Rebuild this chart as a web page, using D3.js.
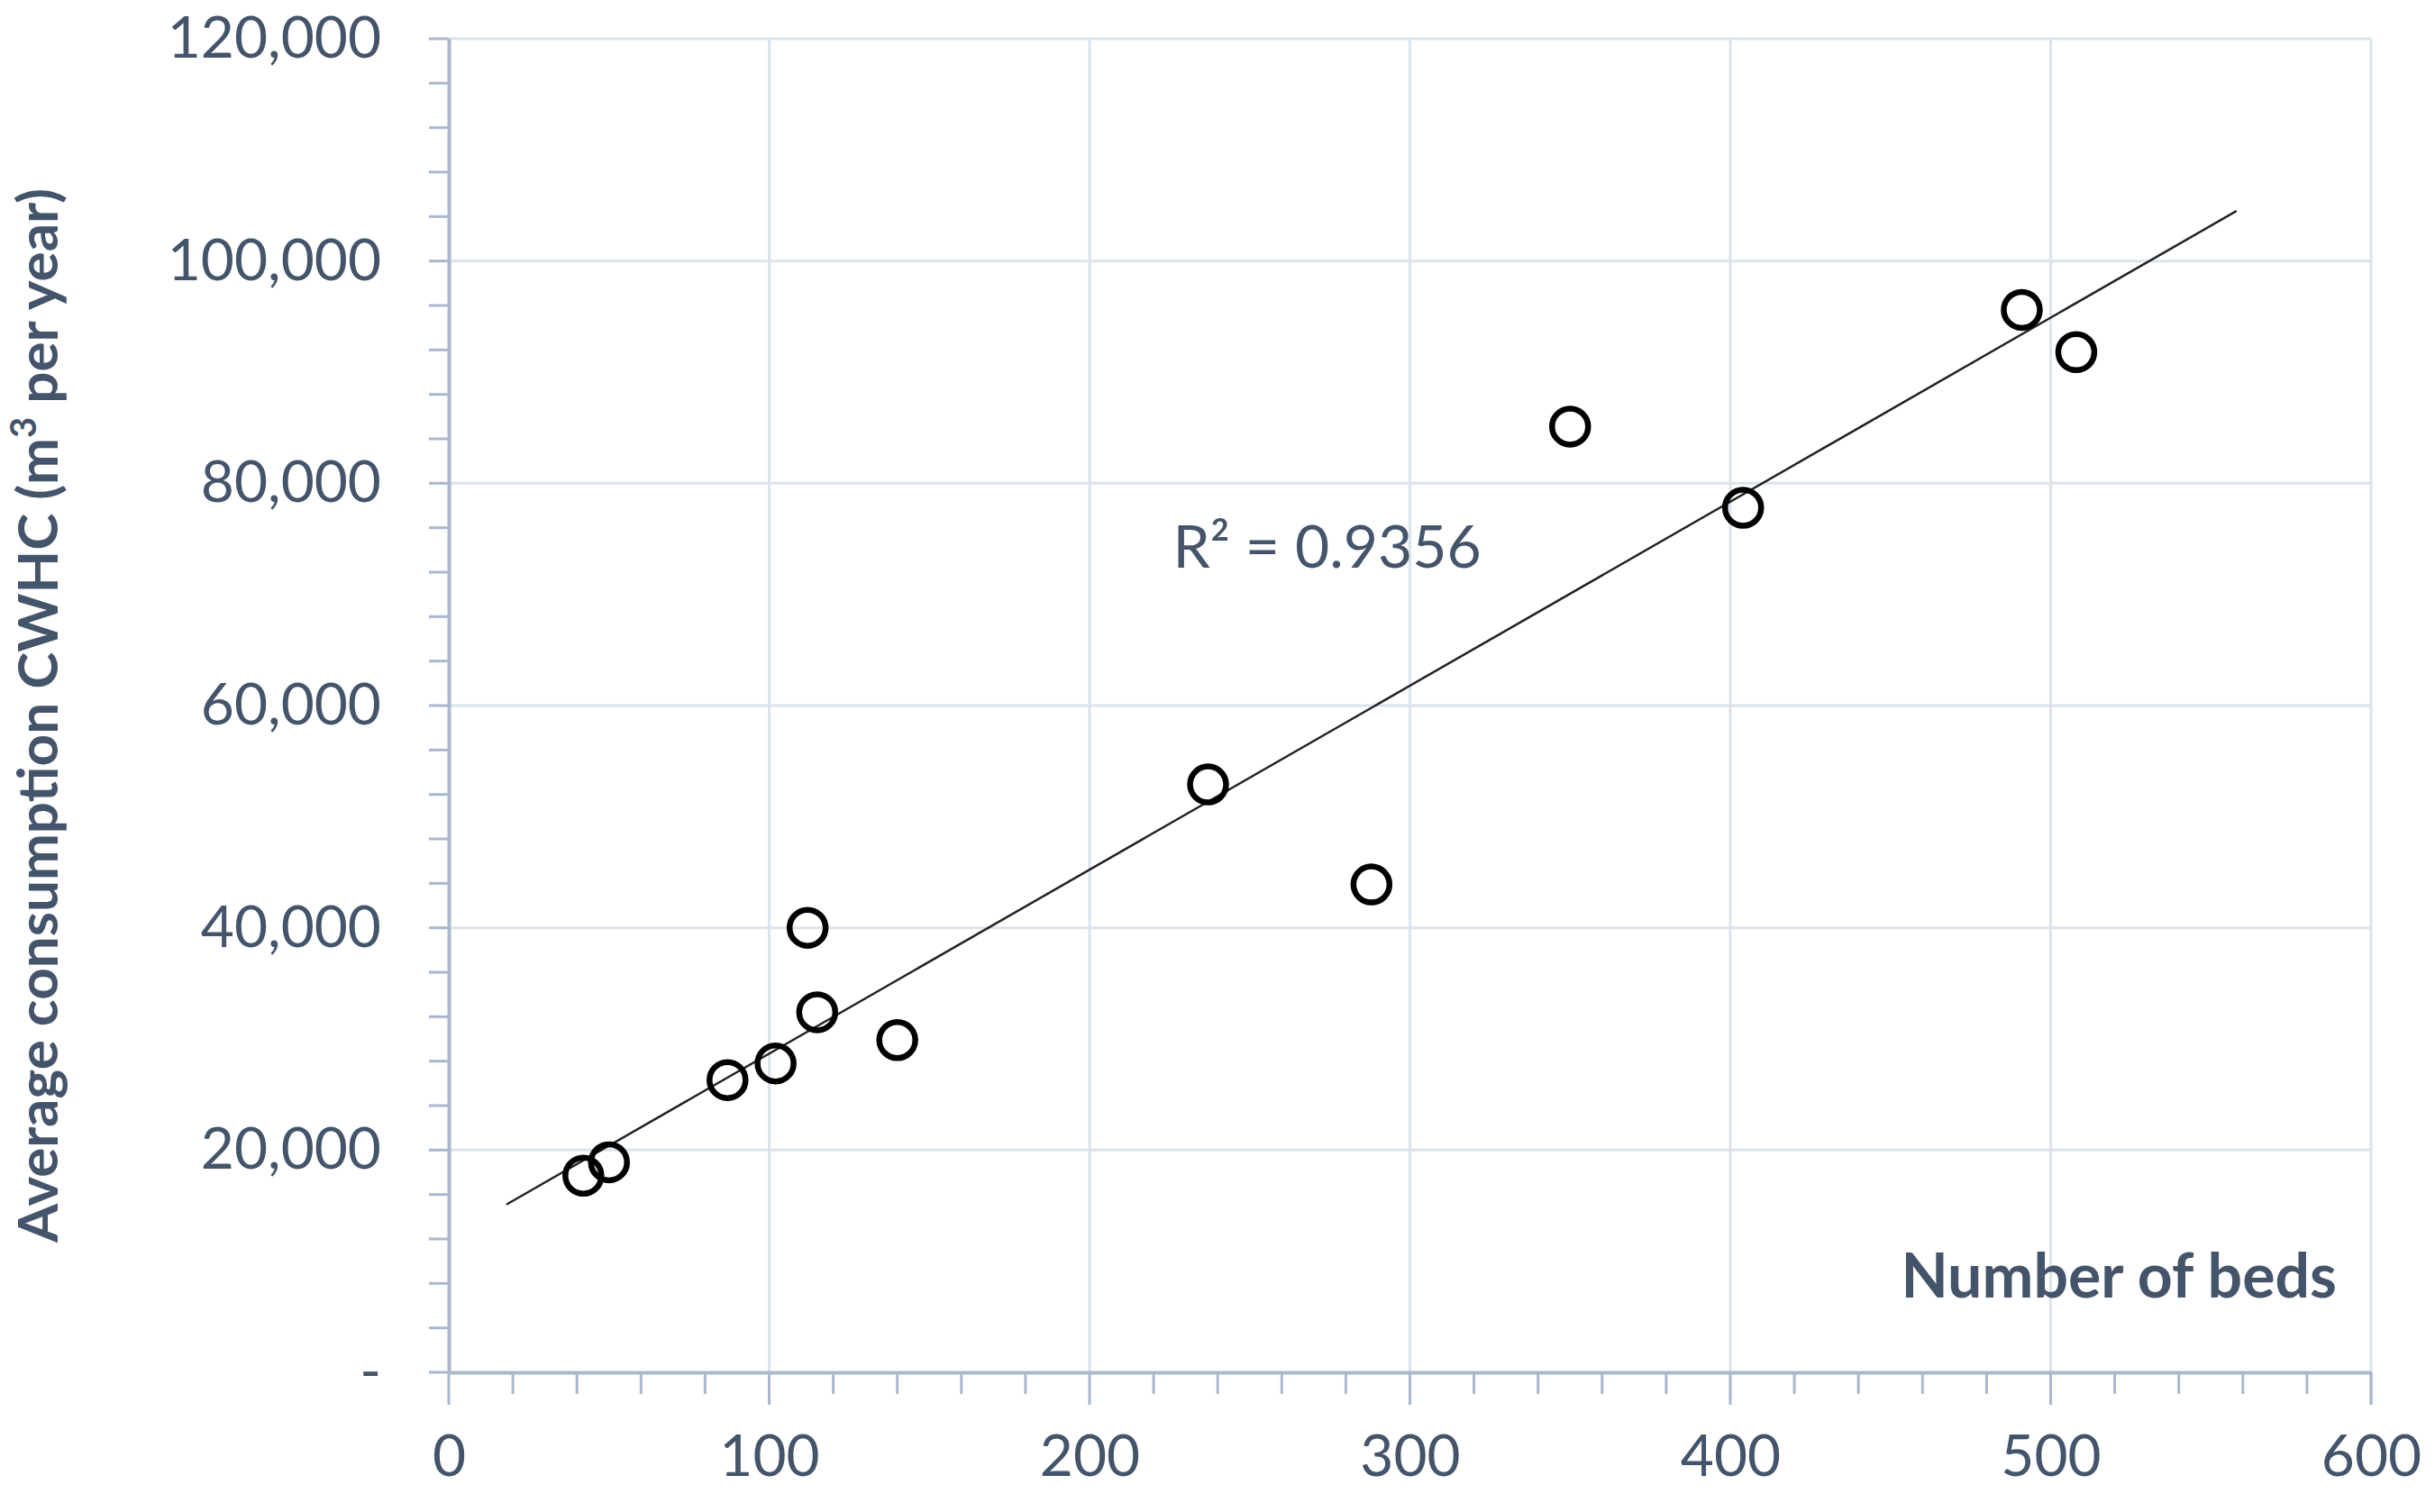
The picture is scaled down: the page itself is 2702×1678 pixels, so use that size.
<!DOCTYPE html>
<html><head><meta charset="utf-8">
<script src="https://cdn.jsdelivr.net/npm/d3@7"></script>
<style>body{margin:0;background:#fff}</style></head>
<body><svg id="c" width="2702" height="1678"></svg>
<script>
const beds = [42, 50, 87, 102, 112, 115, 140, 237, 288, 350, 404, 491, 508];
const consumption = [17700, 18900, 26300, 27800, 40000, 32400, 29900, 52900, 43900, 85100, 77800, 95600, 91800];
const trendX = [18, 558];
const trendY = [15100, 104500];
const xTicks = [0, 100, 200, 300, 400, 500, 600];
const yTicks = [0, 20000, 40000, 60000, 80000, 100000, 120000];
const rSquared = "R² = 0.9356";

const svg = d3.select("#c");
const L = 498, R = 2631, T = 43, B = 1523;
const x = d3.scaleLinear().domain([0, 600]).range([L, R]);
const y = d3.scaleLinear().domain([0, 120000]).range([B, T]);
const txt = "#44546a", axc = "#a9b8cc", grid = "#dce3ec";
const font = "Lato, 'Open Sans', sans-serif";

svg.append("g").selectAll("line").data(yTicks.slice(1)).join("line")
  .attr("x1", L).attr("x2", R).attr("y1", d => y(d)).attr("y2", d => y(d))
  .attr("stroke", grid).attr("stroke-width", 3);
svg.append("g").selectAll("line").data(xTicks.slice(1)).join("line")
  .attr("y1", T).attr("y2", B).attr("x1", d => x(d)).attr("x2", d => x(d))
  .attr("stroke", grid).attr("stroke-width", 3);

const yMinor = d3.range(0, 120001, 4000);
svg.append("g").selectAll("line").data(yMinor).join("line")
  .attr("x1", L - 22).attr("x2", L).attr("y1", d => y(d)).attr("y2", d => y(d))
  .attr("stroke", axc).attr("stroke-width", 3);
const xMinor = d3.range(0, 601, 20);
svg.append("g").selectAll("line").data(xMinor).join("line")
  .attr("y1", B).attr("y2", d => B + (d % 100 === 0 ? 36 : 24)).attr("x1", d => x(d)).attr("x2", d => x(d))
  .attr("stroke", axc).attr("stroke-width", 3);

const xa = svg.append("g").attr("transform", `translate(0,${B})`)
  .call(d3.axisBottom(x).tickValues(xTicks).tickSize(0).tickPadding(70));
const ya = svg.append("g").attr("transform", `translate(${L},0)`)
  .call(d3.axisLeft(y).tickValues(yTicks).tickSize(0).tickPadding(75)
    .tickFormat(d => d === 0 ? "-" : d3.format(",")(d)));
[xa, ya].forEach(a => {
  a.select(".domain").attr("stroke", axc).attr("stroke-width", 4);
  a.selectAll("text").attr("fill", txt).attr("font-family", font).attr("font-size", 64);
});
svg.append("line").attr("x1", R).attr("x2", R).attr("y1", B).attr("y2", B + 36).attr("stroke", axc).attr("stroke-width", 3);

svg.append("line").attr("x1", x(trendX[0])).attr("y1", y(trendY[0]))
  .attr("x2", x(trendX[1])).attr("y2", y(trendY[1]))
  .attr("stroke", "#222").attr("stroke-width", 2.5);

svg.append("g").selectAll("circle").data(beds.map((b, i) => [b, consumption[i]])).join("circle")
  .attr("cx", d => x(d[0])).attr("cy", d => y(d[1])).attr("r", 20)
  .attr("fill", "none").attr("stroke", "#000").attr("stroke-width", 6.5);

svg.append("text").attr("x", x(226)).attr("y", y(74300)).attr("dy", "0.35em")
  .attr("fill", txt).attr("font-family", font).attr("font-size", 66).text(rSquared);

svg.append("text").attr("x", 2593).attr("y", 1440).attr("text-anchor", "end")
  .attr("fill", txt).attr("font-family", font).attr("font-weight", "bold").attr("font-size", 68).text("Number of beds");

svg.append("text").attr("transform", `translate(64,${(T + 1445) / 2 + 50}) rotate(-90)`)
  .attr("text-anchor", "middle").attr("fill", txt).attr("font-family", font).attr("font-weight", "bold")
  .attr("font-size", 62).html("Average consumption CWHC (m<tspan baseline-shift='super' font-size='40'>3</tspan> per year)");
</script></body></html>
